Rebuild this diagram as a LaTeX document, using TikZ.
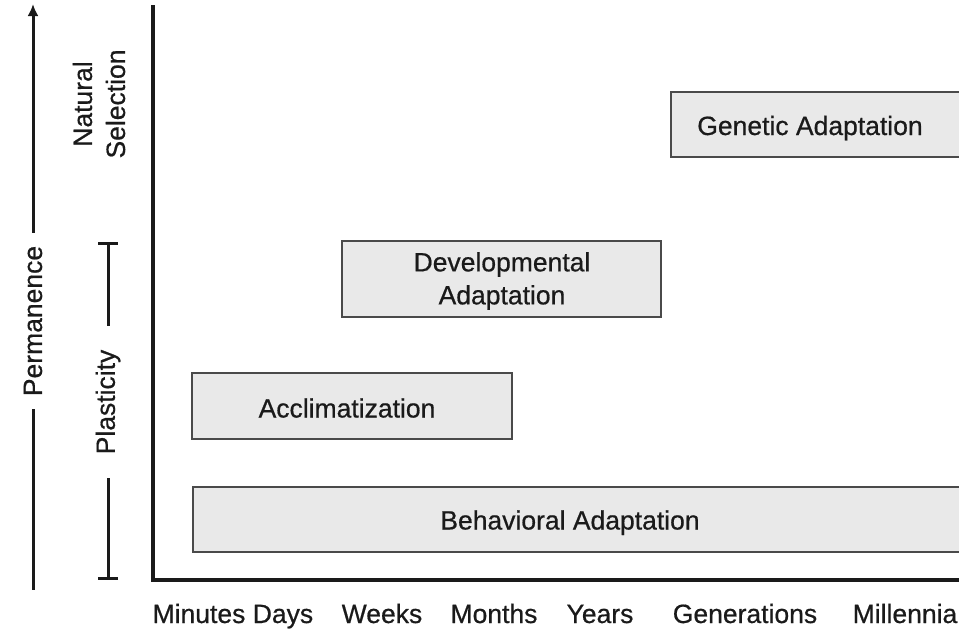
\documentclass[tikz,border=0pt]{standalone}
\usepackage{fontspec}
\setmainfont[FakeBold=0.6]{Liberation Sans}
\usetikzlibrary{arrows.meta}
\definecolor{ink}{HTML}{1A1A1A}
\definecolor{boxline}{HTML}{4A4A4A}
\definecolor{boxfill}{HTML}{E9E9E9}
\begin{document}
\begin{tikzpicture}[x=1pt,y=-1pt,
  lbl/.style={font=\fontsize{26.5}{33}\selectfont, text=ink, inner sep=0pt, align=center},
  panel/.style={draw=boxline, fill=boxfill, line width=2pt, inner sep=0pt},
  axisline/.style={draw=ink, line width=3.5pt, line join=miter},
  guide/.style={draw=ink, line width=3pt},
  tick/.style={lbl, anchor=base},
  inlabel/.style={lbl, anchor=base}]
\useasboundingbox (0,0) rectangle (959,630);
\clip (0,0) rectangle (959,630);

% axes
\coordinate (ytop) at (153,5);
\coordinate (origin) at (153,580);
\coordinate (xend) at (970,580);
\draw[axisline] (ytop) -- (origin) -- (xend);

% time scale
\node[tick] (minutes) at (199,623) {Minutes};
\node[tick] (days) at (283,623) {Days};
\node[tick] (weeks) at (382,623) {Weeks};
\node[tick] (months) at (494,623) {Months};
\node[tick] (years) at (600,623) {Years};
\node[tick] (generations) at (745,623) {Generations};
\node[tick] (millennia) at (905,623) {Millennia};

% adaptation ranges
\node[panel, minimum width=300, minimum height=65, anchor=west] (genbox) at (670,124.5) {};
\node[inlabel] (gen) at (810,135) {Genetic Adaptation};

\node[panel, minimum width=319, minimum height=76] (devbox) at (501.5,279) {};
\node[lbl] (dev) at (502,281) {Developmental\\Adaptation};

\node[panel, minimum width=320, minimum height=66] (accbox) at (352,406) {};
\node[inlabel] (acc) at (347,417.5) {Acclimatization};

\node[panel, minimum width=780, minimum height=65, anchor=west] (behbox) at (192,519.5) {};
\node[inlabel] (beh) at (570,529.5) {Behavioral Adaptation};

% permanence scale
\node[lbl, rotate=90, inner xsep=13pt] (perm) at (33,321) {Permanence};
\coordinate (permtop) at (33,4);
\coordinate (permbot) at (33,590);
\draw[guide, -{Latex[length=12pt,width=11pt]}] (perm.east) -- (permtop);
\draw[guide] (perm.west) -- (permbot);

% plasticity bracket
\node[lbl, rotate=90, inner xsep=24pt] (plast) at (108,402) {Plasticity};
\coordinate (plasttop) at (108,242);
\coordinate (plastbot) at (108,580);
\draw[guide, -{Bar[width=20pt,line width=3pt]}] (plast.east) -- (plasttop);
\draw[guide, -{Bar[width=20pt,line width=3pt]}] (plast.west) -- (plastbot);

% natural selection
\node[lbl, rotate=90] (natsel) at (99,104) {Natural\\Selection};
\end{tikzpicture}
\end{document}
